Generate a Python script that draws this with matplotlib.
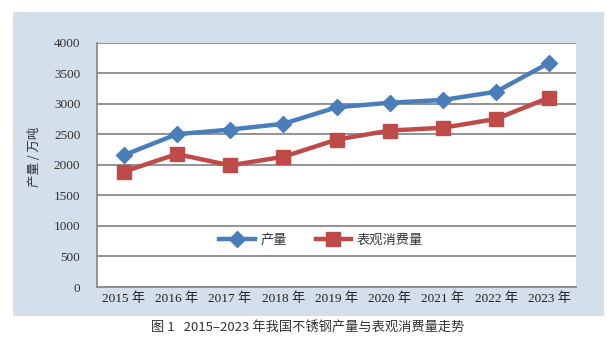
import matplotlib
matplotlib.use("Agg")
import matplotlib.pyplot as plt
from matplotlib.patches import Rectangle

years = ["2015", "2016", "2017", "2018", "2019", "2020", "2021", "2022", "2023"]
production = [2155, 2500, 2575, 2670, 2940, 3015, 3060, 3195, 3670]
consumption = [1885, 2175, 1990, 2130, 2410, 2560, 2605, 2750, 3100]
yticks = [0, 500, 1000, 1500, 2000, 2500, 3000, 3500, 4000]
xlabels = [y + " 年" for y in years]

W, H = 607, 356
fig = plt.figure(figsize=(W / 100, H / 100), dpi=100)
fig.patch.set_facecolor("white")

# light blue panel
fig.patches.append(Rectangle((13 / W, 1 - 316 / H), (604 - 13) / W, (316 - 12) / H,
                             transform=fig.transFigure, facecolor="#d3dfea",
                             edgecolor="none", zorder=-5))

ax = fig.add_axes([97 / W, 1 - 287 / H, (576 - 97) / W, (287 - 42.5) / H])
ax.set_zorder(1)
ax.set_facecolor("white")
x = list(range(len(years)))

blue = "#4a7ebb"
red = "#be4b48"
ax.plot(x, production, color=blue, lw=3.2, marker="D", markersize=8.5,
        markeredgecolor=blue, label="产量", zorder=3)
ax.plot(x, consumption, color=red, lw=3.2, marker="s", markersize=10,
        markeredgecolor=red, label="表观消费量", zorder=3)

ax.set_xlim(-0.5, len(years) - 0.5)
ax.set_ylim(0, 4000)
ax.set_yticks(yticks)
ax.set_yticklabels([str(v) for v in yticks], fontfamily="Liberation Serif",
                   fontsize=9.5, color="#333333")
ax.set_xticks(x)
ax.set_xticklabels(xlabels, fontfamily=["Liberation Serif", "Noto Sans CJK SC"],
                   fontsize=9.5, color="#222222")
ax.tick_params(axis="both", length=0)
ax.tick_params(axis="y", pad=12)
ax.tick_params(axis="x", pad=4)
ax.yaxis.grid(True, color="#8a8a8a", lw=1.3)
ax.set_axisbelow(True)
for s in ["top", "right"]:
    ax.spines[s].set_visible(False)
for s in ["left", "bottom"]:
    ax.spines[s].set_color("#8a8a8a")
    ax.spines[s].set_linewidth(1.3)

fig.text(35 / W, 1 - 157 / H, "产量 / 万吨", rotation=90, ha="center", va="center",
         fontsize=9, fontfamily="Noto Sans CJK SC", color="#333333")

leg = ax.legend(loc="center", bbox_to_anchor=((321 - 97) / (576 - 97), (287 - 240) / (287 - 42.5)),
                ncol=2, frameon=False, handlelength=2.7, handletextpad=0.4,
                columnspacing=2.2, prop={"family": "Noto Sans CJK SC", "size": 9.5})
for t in leg.get_texts():
    t.set_color("#333333")

fig.text(308 / W, 1 - 327 / H, "图 1   2015–2023 年我国不锈钢产量与表观消费量走势",
         ha="center", va="center", fontsize=9.5, fontfamily=["Noto Sans CJK SC", "DejaVu Sans"],
         color="#333333")

fig.savefig("out.png", dpi=100, facecolor="white")
